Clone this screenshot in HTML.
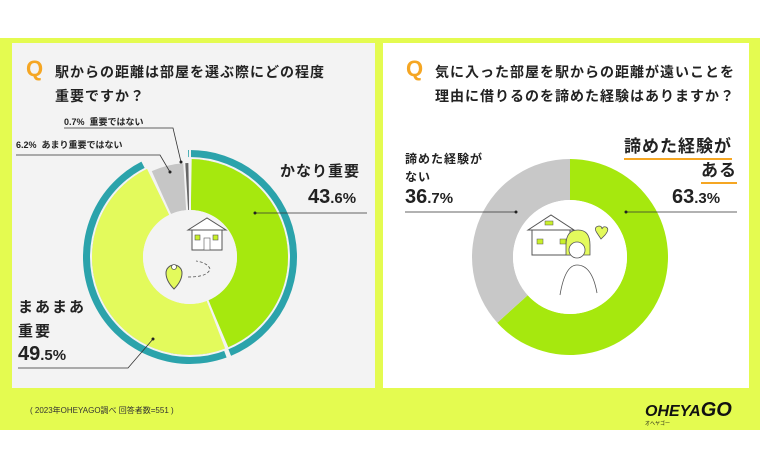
<!DOCTYPE html>
<html><head><meta charset="utf-8"><style>
html,body{margin:0;padding:0;background:#fff;}
body{width:760px;height:456px;position:relative;overflow:hidden;font-family:"Liberation Sans","Noto Sans CJK JP",sans-serif;color:#222;}
.abs{position:absolute;white-space:nowrap;}
</style></head><body>
<div class="abs" style="left:0;top:38px;width:760px;height:392px;background:#e4fb50;"></div>
<div class="abs" style="left:12px;top:43px;width:363px;height:345px;background:#f3f3f3;"></div>
<div class="abs" style="left:383px;top:43px;width:366px;height:345px;background:#fff;"></div>
<svg class="abs" style="left:0;top:0" width="760" height="456" id="s"></svg>
<div class="abs" style="left:26px;top:56px;font-size:22px;font-weight:bold;color:#f5a623;">Q</div>
<div class="abs" style="left:55px;top:60px;font-size:14px;font-weight:bold;line-height:24px;letter-spacing:1px;">駅からの距離は部屋を選ぶ際にどの程度<br>重要ですか？</div>
<div class="abs" style="left:406px;top:56px;font-size:22px;font-weight:bold;color:#f5a623;">Q</div>
<div class="abs" style="left:435px;top:60px;font-size:14px;font-weight:bold;line-height:24px;letter-spacing:1px;">気に入った部屋を駅からの距離が遠いことを<br>理由に借りるのを諦めた経験はありますか？</div>
<div class="abs" style="left:64px;top:115px;font-size:9px;font-weight:bold;">0.7%&nbsp; 重要ではない</div>
<div class="abs" style="left:16px;top:138px;font-size:9px;font-weight:bold;">6.2%&nbsp; あまり重要ではない</div>
<div class="abs" style="left:280px;top:160px;font-size:15px;font-weight:bold;letter-spacing:1px;">かなり重要</div>
<div class="abs" style="left:308px;top:186px;font-size:20px;font-weight:bold;">43<span style="font-size:15px">.6%</span></div>
<div class="abs" style="left:18px;top:296px;font-size:15px;font-weight:bold;line-height:24px;letter-spacing:2px;">まあまあ<br>重要</div>
<div class="abs" style="left:18px;top:343px;font-size:20px;font-weight:bold;">49<span style="font-size:15px">.5%</span></div>
<div class="abs" style="left:405px;top:150px;font-size:12px;font-weight:bold;line-height:18px;letter-spacing:1px;">諦めた経験が<br>ない</div>
<div class="abs" style="left:405px;top:186px;font-size:20px;font-weight:bold;">36<span style="font-size:15px">.7%</span></div>
<div class="abs" style="left:624px;top:136px;font-size:17px;font-weight:bold;letter-spacing:1px;border-bottom:2px solid #f5a623;line-height:22px;">諦めた経験が</div>
<div class="abs" style="left:701px;top:160px;font-size:17px;font-weight:bold;letter-spacing:1px;border-bottom:2px solid #f5a623;line-height:22px;">ある</div>
<div class="abs" style="left:672px;top:186px;font-size:20px;font-weight:bold;">63<span style="font-size:15px">.3%</span></div>
<div class="abs" style="left:30px;top:405px;font-size:8px;color:#333;">( 2023年OHEYAGO調べ 回答者数=551 )</div>
<div class="abs" style="left:645px;top:399px;font-size:16px;font-weight:900;font-style:italic;color:#111;">OHEYA<span style="font-size:20px">GO</span></div>
<div class="abs" style="left:645px;top:420px;font-size:5px;color:#111;">オヘヤゴー</div>
<script>
var s=document.getElementById('s'),NS='http://www.w3.org/2000/svg';
function el(t,a){var e=document.createElementNS(NS,t);for(var k in a)e.setAttribute(k,a[k]);s.appendChild(e);return e;}
function pt(cx,cy,r,a){a=(a-90)*Math.PI/180;return [cx+r*Math.cos(a),cy+r*Math.sin(a)];}
function arc(cx,cy,r0,r1,a0,a1,fill){var p=[pt(cx,cy,r1,a0),pt(cx,cy,r1,a1),pt(cx,cy,r0,a1),pt(cx,cy,r0,a0)];var l=(a1-a0)>180?1:0;
el('path',{d:'M'+p[0]+'A'+r1+','+r1+' 0 '+l+' 1 '+p[1]+'L'+p[2]+'A'+r0+','+r0+' 0 '+l+' 0 '+p[3]+'Z',fill:fill});}
var cx=190,cy=257;
arc(cx,cy,98,107,-1,157.5,'#2ba3ab');arc(cx,cy,98,107,160,333,'#2ba3ab');
el('circle',{cx:cx,cy:cy,r:99,fill:'none',stroke:'#f3f3f3','stroke-width':2});
arc(cx,cy,47,98,1,157,'#a6e80e');
arc(cx,cy,47,98,159,334,'#e3fa5c');
arc(cx,cy,47,94,336,356,'#c6c6c6');
arc(cx,cy,47,94,357,359,'#666');
[[0],[158],[335],[356.5]].forEach(function(a){var p=pt(cx,cy,110,a[0]);el('line',{x1:cx,y1:cy,x2:p[0],y2:p[1],stroke:'#f3f3f3','stroke-width':2});});
el('circle',{cx:cx,cy:cy,r:47,fill:'#f3f3f3'});
var rx=570;
arc(rx,cy,57,98,0,227.9,'#a6e80e');arc(rx,cy,57,98,227.9,360,'#c8c8c8');
el('circle',{cx:rx,cy:cy,r:57,fill:'#fff'});
function ln(pts){el('polyline',{points:pts,fill:'none',stroke:'#333','stroke-width':0.8});}
ln('255,213 367,213');el('circle',{cx:255,cy:213,r:1.5,fill:'#222'});
ln('153,339 128,368 18,368');el('circle',{cx:153,cy:339,r:1.5,fill:'#222'});
ln('16,155 160,155 170,172');el('circle',{cx:170,cy:172,r:1.5,fill:'#222'});
ln('64,128 173,128 181,162');el('circle',{cx:181,cy:162,r:1.5,fill:'#222'});
ln('626,212 737,212');el('circle',{cx:626,cy:212,r:1.5,fill:'#222'});
ln('405,212 516,212');el('circle',{cx:516,cy:212,r:1.5,fill:'#222'});
el('rect',{x:192,y:228,width:30,height:22,fill:'#fff',stroke:'#555','stroke-width':1});
el('polygon',{points:'188,230 207,218 226,230',fill:'#fff',stroke:'#555','stroke-width':1});
el('rect',{x:195,y:235,width:5,height:5,fill:'#c9f02a',stroke:'#555','stroke-width':.6});
el('rect',{x:213,y:235,width:5,height:5,fill:'#c9f02a',stroke:'#555','stroke-width':.6});
el('rect',{x:204,y:238,width:6,height:12,fill:'#fff',stroke:'#555','stroke-width':.6});
el('path',{d:'M166,273 a8,8 0 1 1 16,0 q0,8 -8,16 q-8,-8 -8,-16z',fill:'#e3fa5c',stroke:'#555','stroke-width':1});
el('circle',{cx:174,cy:267,r:2.5,fill:'#fff',stroke:'#555','stroke-width':.8});
el('path',{d:'M188,277 q20,0 22,-8 q-2,-6 -14,-8',fill:'none',stroke:'#555','stroke-width':.8,'stroke-dasharray':'3,2'});
el('rect',{x:532,y:228,width:38,height:27,fill:'#fff',stroke:'#555','stroke-width':1});
el('polygon',{points:'528,230 551,215 574,230',fill:'#fff',stroke:'#555','stroke-width':1});
el('rect',{x:545,y:221,width:8,height:4,fill:'#c9f02a',stroke:'#555','stroke-width':.5});
el('rect',{x:537,y:239,width:6,height:5,fill:'#c9f02a',stroke:'#555','stroke-width':.5});
el('rect',{x:560,y:239,width:6,height:5,fill:'#c9f02a',stroke:'#555','stroke-width':.5});
el('path',{d:'M566,245 q0,-15 12,-15 q12,0 12,15 l0,10 -24,0z',fill:'#e3fa5c',stroke:'#555','stroke-width':.8});
el('circle',{cx:577,cy:250,r:8,fill:'#fff',stroke:'#555','stroke-width':.8});
el('path',{d:'M560,295 q5,-30 17,-30 q15,0 20,28',fill:'none',stroke:'#555','stroke-width':.8});
el('path',{d:'M597,233 q-4,-6 2,-7 q3,0 3,3 q1,-3 4,-2 q4,2 -1,8 l-4,4z',fill:'#e3fa5c',stroke:'#555','stroke-width':.8});
</script>
</body></html>
